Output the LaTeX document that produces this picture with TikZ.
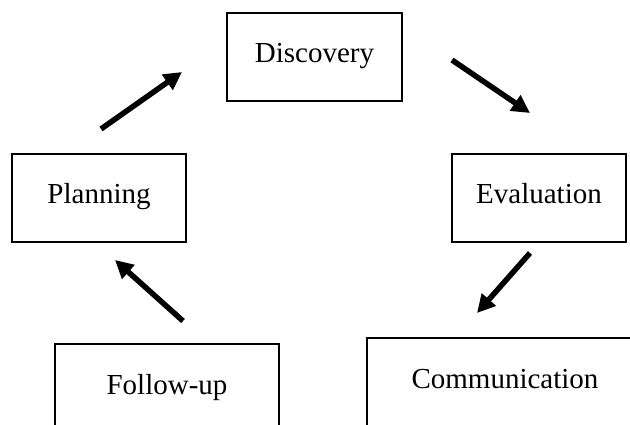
\documentclass[tikz,border=0pt]{standalone}
\usepackage{fontspec}
\setmainfont{Liberation Serif}
\usetikzlibrary{arrows.meta}
\begin{document}
\begin{tikzpicture}[x=1pt,y=-1pt,
  stagebox/.style={draw=black, line width=2.1pt, rectangle, inner sep=0pt,
    minimum height=88pt, text height=20pt, text depth=8pt,
    font=\fontsize{29}{34}\selectfont},
  flowarrow/.style={line width=5.5pt, -{Triangle[length=18pt,width=18pt]}}]
\useasboundingbox (0,0) rectangle (630,425);
\clip (0,0) rectangle (630,425);
\fill[white] (0,0) rectangle (630,425);
\node[stagebox, minimum width=175pt] (disc) at (314.5,57) {Discovery};
\node[stagebox, minimum width=174pt] (plan) at (99,198) {Planning};
\node[stagebox, minimum width=174pt] (eval) at (539,198) {Evaluation};
\node[stagebox, minimum width=224pt] (foll) at (167,388) {Follow-up};
\node[stagebox, minimum width=276pt] (comm) at (505,382) {Communication};
\coordinate (a1s) at (101,129);
\coordinate (a1e) at (182,72);
\coordinate (a2s) at (452,60);
\coordinate (a2e) at (530,113);
\coordinate (a3s) at (530,253);
\coordinate (a3e) at (477,313);
\coordinate (a4s) at (183,321);
\coordinate (a4e) at (115,260);
\draw[flowarrow] (a1s) -- (a1e);
\draw[flowarrow] (a2s) -- (a2e);
\draw[flowarrow] (a3s) -- (a3e);
\draw[flowarrow] (a4s) -- (a4e);
\end{tikzpicture}
\end{document}
